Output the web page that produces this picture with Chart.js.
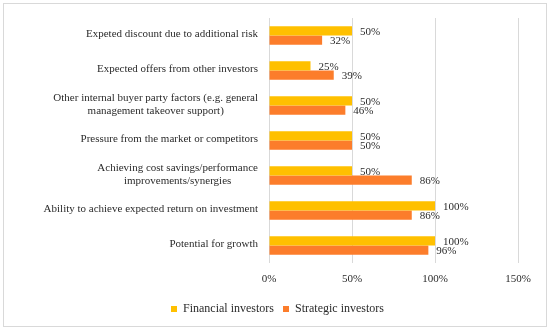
<!DOCTYPE html>
<html>
<head>
<meta charset="utf-8">
<script src="https://cdn.jsdelivr.net/npm/chart.js@4/dist/chart.umd.min.js"></script>
<style>
  html, body { margin: 0; padding: 0; background: #fff; }
  #wrap { width: 550px; height: 331px; position: relative; }
</style>
</head>
<body>
<div id="wrap"><canvas id="chart" width="550" height="331"></canvas></div>
<script>
  // categories, top to bottom (multi-line labels as arrays)
  var categories = [
    ["Expeted discount due to additional risk"],
    ["Expected offers from other investors"],
    ["Other internal buyer party factors (e.g. general", "management takeover support)"],
    ["Pressure from the market or competitors"],
    ["Achieving cost savings/performance", "improvements/synergies"],
    ["Ability to achieve expected return on investment"],
    ["Potential for growth"]
  ];
  var financialInvestors = [50, 25, 50, 50, 50, 100, 100];
  var strategicInvestors = [32, 39, 46, 50, 86, 86, 96];
  var xTicks = [0, 50, 100, 150];

  var FONT = "'Liberation Serif', 'DejaVu Serif', serif";
  var TEXT = "#2b2b2b";
  Chart.defaults.font.family = FONT;
  Chart.defaults.color = TEXT;

  // grey frame round the whole chart
  var framePlugin = {
    id: "frame",
    beforeDraw: function (chart) {
      var ctx = chart.ctx;
      ctx.save();
      ctx.fillStyle = "#fff";
      ctx.fillRect(0, 0, chart.width, chart.height);
      ctx.strokeStyle = "#d9d9d9";
      ctx.lineWidth = 1;
      ctx.strokeRect(3.5, 3.5, 543, 323);
      ctx.restore();
    }
  };

  // category labels: block right-aligned to the axis, lines centred inside it
  var catLabelPlugin = {
    id: "catLabels",
    afterDraw: function (chart) {
      var ctx = chart.ctx;
      var yScale = chart.scales.y;
      var right = chart.chartArea.left - 11;
      var lineH = 12.5;
      ctx.save();
      ctx.font = "11px " + FONT;
      ctx.fillStyle = TEXT;
      ctx.textAlign = "center";
      ctx.textBaseline = "middle";
      categories.forEach(function (lines, i) {
        var w = 0;
        lines.forEach(function (l) { w = Math.max(w, ctx.measureText(l).width); });
        var cy = yScale.getPixelForValue(i);
        var y0 = cy - (lines.length - 1) * lineH / 2 - 1;
        lines.forEach(function (l, k) {
          ctx.fillText(l, right - w / 2, y0 + k * lineH);
        });
      });
      ctx.restore();
    }
  };

  // value labels just past the end of each bar
  var valueLabelPlugin = {
    id: "valueLabels",
    afterDatasetsDraw: function (chart) {
      var ctx = chart.ctx;
      ctx.save();
      ctx.font = "11px " + FONT;
      ctx.fillStyle = TEXT;
      ctx.textAlign = "left";
      ctx.textBaseline = "middle";
      chart.data.datasets.forEach(function (ds, di) {
        var meta = chart.getDatasetMeta(di);
        meta.data.forEach(function (bar, i) {
          ctx.fillText(ds.data[i] + "%", bar.x + 8, bar.y + 1);
        });
      });
      ctx.restore();
    }
  };

  new Chart(document.getElementById("chart"), {
    type: "bar",
    data: {
      labels: categories,
      datasets: [
        {
          label: "Financial investors",
          data: financialInvestors,
          backgroundColor: "#ffc000",
          barPercentage: 1,
          categoryPercentage: 0.53
        },
        {
          label: "Strategic investors",
          data: strategicInvestors,
          backgroundColor: "#fc7d2b",
          barPercentage: 1,
          categoryPercentage: 0.53
        }
      ]
    },
    options: {
      indexAxis: "y",
      responsive: false,
      animation: false,
      devicePixelRatio: 1,
      layout: { padding: { left: 37, right: 32, top: 18, bottom: 6 } },
      scales: {
        x: {
          min: 0,
          max: 150,
          afterBuildTicks: function (scale) {
            scale.ticks = xTicks.map(function (v) { return { value: v }; });
          },
          afterFit: function (scale) { scale.height = 31; },
          grid: { color: "#d9d9d9", drawTicks: false },
          border: { display: false },
          ticks: {
            padding: 10,
            color: TEXT,
            font: { family: FONT, size: 11 },
            callback: function (v) { return v + "%"; }
          }
        },
        y: {
          afterFit: function (scale) { scale.width = 232; },
          grid: { display: false },
          border: { display: false },
          ticks: { display: false }
        }
      },
      plugins: {
        legend: {
          position: "bottom",
          labels: {
            boxWidth: 6,
            boxHeight: 6,
            padding: 9,
            color: TEXT,
            font: { family: FONT, size: 12 }
          }
        },
        tooltip: { enabled: false }
      }
    },
    plugins: [framePlugin, catLabelPlugin, valueLabelPlugin]
  });
</script>
</body>
</html>
